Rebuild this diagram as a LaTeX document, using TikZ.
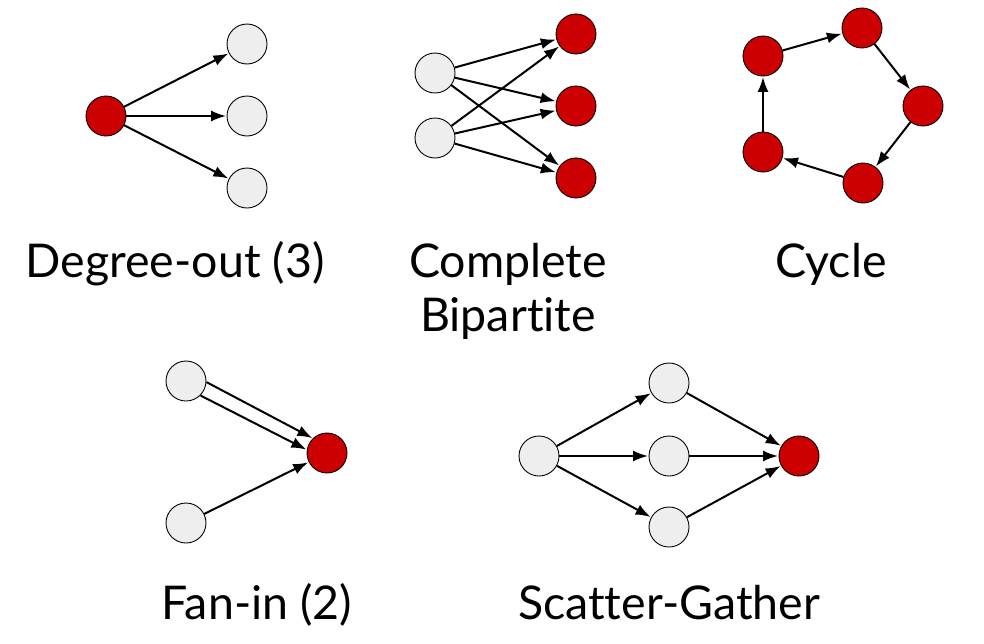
\documentclass[tikz,border=0pt]{standalone}
\usepackage{fontspec}
\setmainfont{Lato}[Ligatures=NoCommon]
\usepackage{xcolor}
\usetikzlibrary{arrows.meta}
\definecolor{nodered}{HTML}{CC0000}
\definecolor{nodegray}{HTML}{EEEEEE}
\tikzset{
    vred/.style={circle, draw=black, line width=0.9pt, fill=nodered, minimum size=40pt, inner sep=0pt},
    vgray/.style={circle, draw=black, line width=0.9pt, fill=nodegray, minimum size=40pt, inner sep=0pt},
    arr/.style={-{Latex[length=15pt,width=11pt]}, line width=2pt, shorten >=0.5pt},
    lbl/.style={anchor=base, font=\fontsize{46.5}{54}\selectfont, inner sep=0pt, align=center}
}

\begin{document}
\begin{tikzpicture}[x=1pt, y=-1pt]
            \useasboundingbox (0,0) rectangle (984,643);
            % Degree-out
            \node[vred] (d0) at (106,116) {};
            \node[vgray] (d1) at (247,44) {};
            \node[vgray] (d2) at (247,116) {};
            \node[vgray] (d3) at (247,188) {};
            \foreach \i in {1,2,3} \draw[arr] (d0) -- (d\i);
            \node[lbl] (ldeg) at (175,277) {Degree-out (3)};
            % Complete bipartite
            \node[vgray] (b1) at (435,73) {};
            \node[vgray] (b2) at (435,138) {};
            \node[vred] (c1) at (576,34) {};
            \node[vred] (c2) at (576,106) {};
            \node[vred] (c3) at (576,178) {};
            \foreach \i in {1,2} \foreach \j in {1,2,3} \draw[arr] (b\i) -- (c\j);
            \node[lbl] (lbip) at (508,331) {Complete\\Bipartite};
            % Cycle
            \node[vred] (y1) at (763,56) {};
            \node[vred] (y2) at (862,28) {};
            \node[vred] (y3) at (923,106) {};
            \node[vred] (y4) at (863,183) {};
            \node[vred] (y5) at (763,152) {};
            \draw[arr] (y1) -- (y2);
            \draw[arr] (y2) -- (y3);
            \draw[arr] (y3) -- (y4);
            \draw[arr] (y4) -- (y5);
            \draw[arr] (y5) -- (y1);
            \node[lbl] (lcyc) at (831,277) {Cycle};
            % Fan-in
            \node[vgray] (f1) at (186,381) {};
            \node[vgray] (f2) at (186,523) {};
            \node[vred] (f0) at (327,453) {};
            \draw[arr] (f1.-3) -- (f0.134);
            \draw[arr] (f1.-45) -- (f0.171);
            \draw[arr] (f2) -- (f0);
            \node[lbl] (lfan) at (257,619) {Fan-in (2)};
            % Scatter-Gather
            \node[vgray] (s0) at (539,456) {};
            \node[vgray] (s1) at (669,383) {};
            \node[vgray] (s2) at (669,456) {};
            \node[vgray] (s3) at (669,527) {};
            \node[vred] (g0) at (799,456) {};
            \foreach \i in {1,2,3} {
                \draw[arr] (s0) -- (s\i);
                \draw[arr] (s\i) -- (g0);
            }
            \node[lbl] (lsg) at (669,619) {Scatter-Gather};
        \end{tikzpicture}
\end{document}
